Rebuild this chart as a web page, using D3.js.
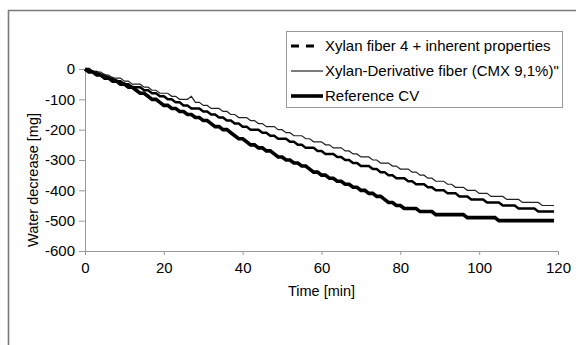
<!DOCTYPE html>
<html>
<head>
<meta charset="utf-8">
<script src="https://cdn.jsdelivr.net/npm/d3@7"></script>
<style>
  body { margin: 0; background: #fff; }
  svg { display: block; }
  text { font-family: "Liberation Sans", Arial, sans-serif; fill: #000; }
</style>
</head>
<body>
<div id="chart"></div>
<script>
// minutes 0..119, water decrease [mg]
var timeMin = [
  0, 1, 2, 3, 4, 5, 6, 7, 8, 9, 10, 11, 12, 13, 14, 15, 16, 17, 18, 19,
  20, 21, 22, 23, 24, 25, 26, 27, 28, 29, 30, 31, 32, 33, 34, 35, 36, 37, 38, 39,
  40, 41, 42, 43, 44, 45, 46, 47, 48, 49, 50, 51, 52, 53, 54, 55, 56, 57, 58, 59,
  60, 61, 62, 63, 64, 65, 66, 67, 68, 69, 70, 71, 72, 73, 74, 75, 76, 77, 78, 79,
  80, 81, 82, 83, 84, 85, 86, 87, 88, 89, 90, 91, 92, 93, 94, 95, 96, 97, 98, 99,
  100, 101, 102, 103, 104, 105, 106, 107, 108, 109, 110, 111, 112, 113, 114, 115, 116, 117, 118, 119
];
var xylanFiber4 = [
  0, 0, -10, -10, -20, -20, -30, -30, -40, -40, -50, -50, -60, -60, -60, -70, -70, -80, -80, -90,
  -90, -100, -100, -110, -110, -120, -120, -130, -130, -130, -140, -140, -150, -150, -160, -160, -170, -170, -180, -180,
  -190, -190, -200, -200, -200, -210, -210, -220, -220, -230, -230, -230, -240, -240, -250, -250, -260, -260, -260, -270,
  -270, -280, -280, -280, -290, -290, -300, -300, -310, -310, -320, -320, -320, -330, -330, -340, -340, -350, -350, -360,
  -360, -360, -370, -370, -380, -380, -380, -390, -390, -400, -400, -400, -410, -410, -410, -420, -420, -420, -430, -430,
  -430, -430, -440, -440, -440, -440, -450, -450, -450, -450, -460, -460, -460, -460, -460, -470, -470, -470, -470, -470
];
var xylanDerivative = [
  0, 0, -10, -10, -10, -20, -20, -30, -30, -30, -40, -40, -50, -50, -50, -60, -60, -70, -70, -80,
  -80, -80, -90, -90, -100, -100, -100, -90, -110, -110, -120, -120, -130, -130, -130, -140, -140, -150, -150, -160,
  -160, -160, -170, -170, -180, -180, -190, -190, -190, -200, -200, -210, -210, -220, -220, -220, -230, -230, -240, -240,
  -240, -250, -250, -260, -260, -260, -270, -270, -280, -280, -290, -290, -290, -300, -300, -310, -310, -310, -320, -320,
  -330, -330, -330, -340, -340, -350, -350, -360, -360, -370, -370, -370, -380, -380, -390, -390, -390, -400, -400, -400,
  -410, -410, -410, -420, -420, -420, -420, -430, -430, -430, -430, -440, -440, -440, -440, -440, -450, -450, -450, -450
];
var referenceCV = [
  0, -10, -10, -20, -20, -30, -30, -40, -40, -50, -50, -60, -60, -70, -80, -80, -90, -100, -100, -110,
  -120, -120, -130, -130, -140, -140, -150, -150, -160, -160, -170, -170, -180, -190, -190, -200, -200, -210, -220, -230,
  -230, -240, -250, -250, -260, -260, -270, -270, -280, -290, -290, -300, -300, -310, -310, -320, -320, -330, -340, -340,
  -350, -350, -360, -360, -370, -370, -380, -380, -390, -390, -400, -400, -410, -410, -420, -420, -430, -440, -440, -450,
  -450, -460, -460, -460, -460, -470, -470, -470, -470, -480, -480, -480, -480, -480, -480, -480, -480, -490, -490, -490,
  -490, -490, -490, -490, -490, -500, -500, -500, -500, -500, -500, -500, -500, -500, -500, -500, -500, -500, -500, -500
];
var xTicks = [0, 20, 40, 60, 80, 100, 120];
var yTicks = [0, -100, -200, -300, -400, -500, -600];
var seriesNames = [
  "Xylan fiber 4 + inherent properties",
  "Xylan-Derivative fiber (CMX 9,1%)\"",
  "Reference CV"
];

var width = 576, height = 345;
var plot = { left: 85, right: 558, top: 69, bottom: 251 };

var svg = d3.select("#chart").append("svg")
    .attr("width", width)
    .attr("height", height);

// outer frame (only left and top edges fall inside the picture)
svg.append("path")
    .attr("d", "M8.5," + height + "V10.5H" + width)
    .style("fill", "none")
    .style("stroke", "#7a7a7a")
    .style("stroke-width", 1.6);

var x = d3.scaleLinear().domain([0, 120]).range([plot.left, plot.right]);
var y = d3.scaleLinear().domain([-600, 0]).range([plot.bottom, plot.top]);

var xAxis = svg.append("g")
    .attr("transform", "translate(0," + plot.bottom + ")")
    .call(d3.axisBottom(x).tickValues(xTicks).tickSize(4).tickPadding(7));
var yAxis = svg.append("g")
    .attr("transform", "translate(" + plot.left + ",0)")
    .call(d3.axisLeft(y).tickValues(yTicks).tickSize(6).tickPadding(4)
        .tickFormat(function (d) { return d < 0 ? "-" + Math.abs(d) : d; }));

[xAxis, yAxis].forEach(function (g) {
    g.select(".domain").attr("stroke", "#999").attr("stroke-width", 1);
    g.selectAll(".tick line").attr("stroke", "#999");
    g.selectAll(".tick text")
        .style("font-family", "'Liberation Sans', Arial, sans-serif")
        .style("font-size", "15px")
        .attr("fill", "#000");
});

svg.append("text")
    .attr("x", (plot.left + plot.right) / 2)
    .attr("y", 296)
    .attr("text-anchor", "middle")
    .style("font-size", "14.5px")
    .text("Time [min]");

svg.append("text")
    .attr("transform", "translate(38,180) rotate(-90)")
    .attr("text-anchor", "middle")
    .style("font-size", "14.5px")
    .text("Water decrease [mg]");

var line = d3.line()
    .x(function (d) { return x(d[0]); })
    .y(function (d) { return y(d[1]); });

function pairs(values) {
    return timeMin.map(function (t, i) { return [t, values[i]]; });
}

var styles = [
    { stroke: "#000", width: 2.5, dash: "8,7,8,20" },
    { stroke: "#222", width: 1.2, dash: null },
    { stroke: "#000", width: 3.6, dash: null }
];
var seriesValues = [xylanFiber4, xylanDerivative, referenceCV];

seriesValues.forEach(function (vals, i) {
    svg.append("path")
        .datum(pairs(vals))
        .attr("d", line)
        .style("fill", "none")
        .style("stroke", styles[i].stroke)
        .style("stroke-width", styles[i].width)
        .style("stroke-linejoin", "miter");
});

// legend
var legend = svg.append("g");
legend.append("rect")
    .attr("x", 286.5).attr("y", 31.5)
    .attr("width", 276).attr("height", 76)
    .style("fill", "#fff")
    .style("stroke", "#999")
    .style("stroke-width", 1);

var rowY = [46, 71, 96];
seriesNames.forEach(function (name, i) {
    legend.append("line")
        .attr("x1", 291).attr("x2", 323)
        .attr("y1", rowY[i]).attr("y2", rowY[i])
        .style("stroke", styles[i].stroke)
        .style("stroke-width", styles[i].width + (i === 0 ? 0.5 : 0))
        .style("stroke-dasharray", styles[i].dash);
    legend.append("text")
        .attr("x", 325)
        .attr("y", rowY[i])
        .attr("dy", "0.35em")
        .style("font-size", "15px")
        .text(name);
});
</script>
</body>
</html>
